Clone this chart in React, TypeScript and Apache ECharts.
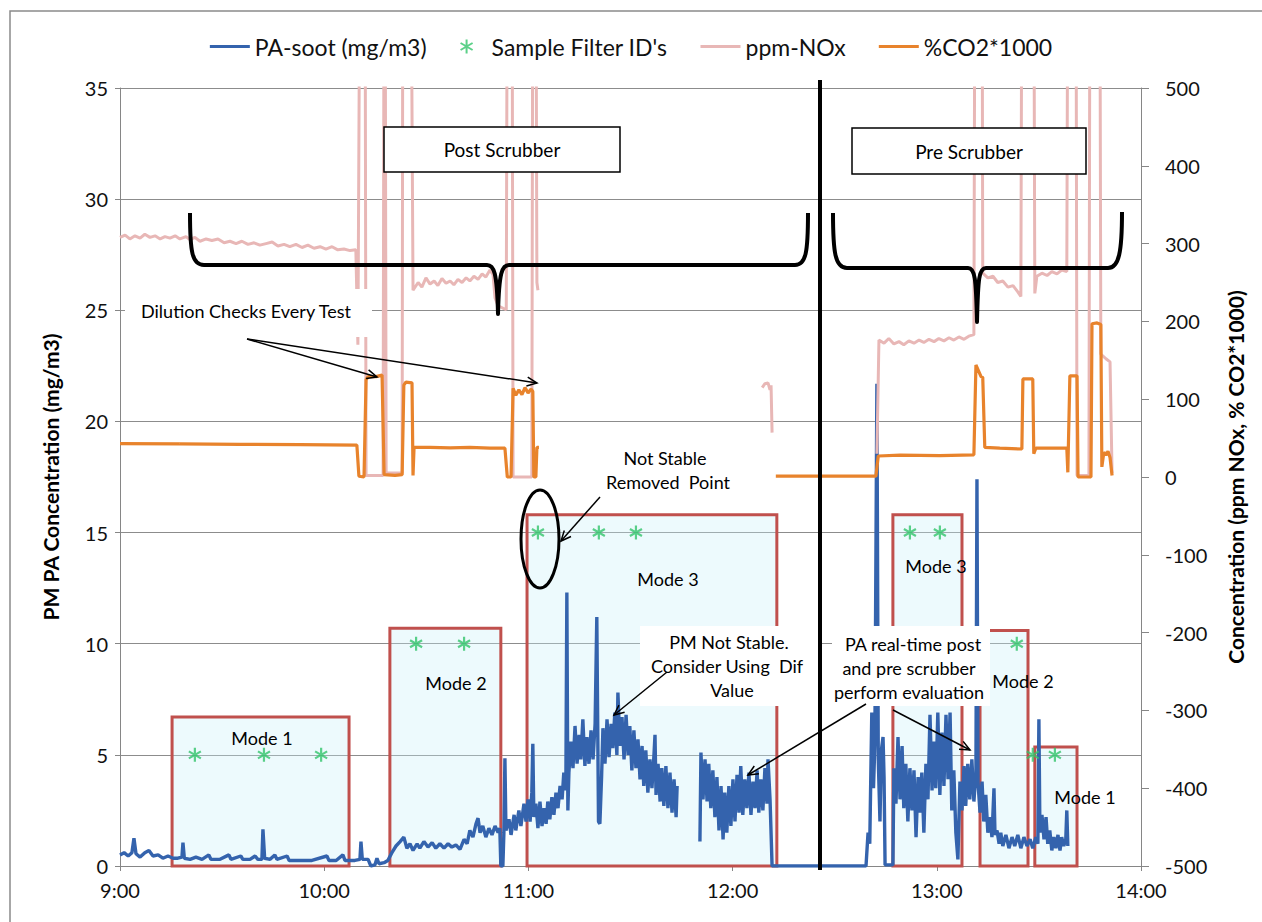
import React, { useEffect, useRef } from 'react';
import * as echarts from 'echarts';

// ---------- DATA (x = minutes after 9:00) ----------
const timeTickLabels = ['9:00', '10:00', '11:00', '12:00', '13:00', '14:00'];
const legendNames = ['PA-soot (mg/m3)', "Sample Filter ID's", 'ppm-NOx', '%CO2*1000'];

// PA-soot, mg/m3 (left axis)
const sootPostEarly: [number, number][] = [
  [0, 0.5], [1.2, 0.6], [2.4, 0.45], [3.5, 0.6], [4.1, 1.25], [4.7, 0.55], [5.9, 0.4], [7.3, 0.6], [8.5, 0.7],
  [9.7, 0.45], [11.2, 0.5], [12.6, 0.35], [14.1, 0.45], [15.6, 0.35], [17.0, 0.35], [18.2, 0.4], [18.5, 1.05],
  [18.9, 0.35], [20.6, 0.3], [22.3, 0.4], [24.1, 0.3], [26.1, 0.5], [26.7, 0.3], [29.4, 0.3], [32.0, 0.5],
  [32.6, 0.3], [35.5, 0.45], [36.1, 0.3], [38.2, 0.3], [39.7, 0.45], [40.5, 0.3], [41.7, 0.3], [42.0, 1.65],
  [42.5, 0.35], [44.1, 0.3], [45.5, 0.5], [46.1, 0.3], [49.1, 0.45], [49.7, 0.25], [52.9, 0.25], [56.4, 0.25],
  [60.8, 0.45], [61.4, 0.25], [63.5, 0.25], [65.5, 0.5], [66.1, 0.25], [69.0, 0.25], [70.5, 0.3], [70.8, 1.1],
  [71.2, 0.3], [72.9, 0.3], [73.7, 0.0], [74.9, 0.05], [75.5, 0.35], [76.1, 0.1], [77.6, 0.15], [78.7, 0.25],
  [79.9, 0.6], [81.1, 0.9], [82.3, 1.1], [83.4, 1.3], [84.3, 0.8], [85.2, 1.0], [86.1, 0.7], [87.3, 1.0],
  [88.1, 0.8], [89.3, 1.1], [90.5, 0.85], [91.7, 1.05], [92.8, 0.8], [94.0, 1.0], [95.2, 0.8], [96.4, 1.0],
  [97.5, 0.85], [98.7, 0.95], [99.9, 0.75], [101.1, 1.2], [102.0, 1.0], [102.8, 1.6], [103.7, 1.3], [104.6, 1.9],
  [105.2, 2.15], [105.8, 1.5], [106.6, 1.8], [107.5, 1.3], [108.4, 1.7], [109.3, 1.4], [110.2, 1.8], [111.1, 1.5],
  [111.6, 1.7], [111.9, 0.0], [112.5, 0.0], [112.8, 1.5], [113.1, 4.85], [113.4, 1.6], [114.3, 2.1], [114.9, 1.4],
  [115.8, 2.3], [116.3, 1.6], [117.2, 2.5], [117.8, 1.8], [118.7, 2.8], [119.3, 2.0],
];
const sootMode3First: [number, number][] = [
  [119.9, 3.0], [120.5, 2.0], [121.0, 3.3], [121.3, 5.5], [121.6, 2.2], [122.2, 2.8], [122.8, 1.7], [123.4, 2.9],
  [124.0, 1.8], [124.6, 2.6], [125.2, 1.9], [125.7, 2.9], [126.3, 2.1], [126.9, 3.1], [127.5, 2.3], [128.1, 3.3],
  [128.7, 2.6], [129.3, 3.6], [129.9, 3.0], [130.4, 4.2], [131.0, 3.4], [131.3, 12.3], [131.6, 2.5], [131.9, 4.2],
  [132.5, 5.6], [133.1, 4.4], [133.7, 6.3], [134.3, 4.6], [134.9, 5.9], [135.4, 4.8], [136.0, 6.6], [136.6, 4.5],
  [137.2, 5.8], [137.8, 4.6], [138.4, 6.1], [139.0, 4.8], [139.6, 6.4], [140.1, 11.2], [140.6, 2.0], [141.0, 1.9],
  [141.5, 4.0], [141.9, 6.2], [142.5, 4.6], [143.1, 6.6], [143.7, 4.9], [144.3, 6.4], [144.8, 5.3], [145.4, 6.9],
  [146.0, 5.0], [146.3, 7.8], [146.9, 5.4], [147.5, 6.7], [148.1, 4.8], [148.7, 6.8], [149.3, 5.0], [149.8, 6.3],
  [150.4, 4.3], [151.0, 6.1], [151.6, 4.4], [152.2, 5.7], [152.8, 3.9], [153.4, 5.4], [153.9, 3.6], [154.5, 5.2],
  [155.1, 3.3], [155.7, 4.8], [156.3, 3.5], [156.9, 5.0], [157.2, 5.9], [157.5, 3.2], [158.1, 4.6], [158.7, 2.9],
  [159.2, 4.4], [159.8, 2.7], [160.4, 4.5], [161.0, 2.6], [161.6, 4.2], [162.2, 2.4], [162.8, 3.9], [163.4, 2.2],
  [163.7, 3.6],
];
const sootMode3Second: [number, number][] = [
  [170.4, 1.1], [170.7, 5.1], [171.3, 3.0], [171.9, 4.8], [172.5, 2.9], [173.0, 4.6], [173.6, 2.6], [174.2, 4.3],
  [174.8, 2.2], [175.4, 4.0], [176.0, 1.6], [176.6, 3.6], [177.2, 1.2], [177.7, 3.3], [178.3, 1.5], [178.9, 3.6],
  [179.5, 1.8], [180.1, 3.9], [180.7, 2.0], [181.3, 4.1], [181.9, 2.4], [182.4, 4.5], [183.0, 2.3], [183.6, 3.9],
  [184.2, 2.6], [184.8, 4.2], [185.4, 2.3], [186.0, 3.8], [186.6, 2.6], [187.2, 4.3], [187.7, 2.4], [188.3, 3.9],
  [188.9, 2.5], [189.5, 4.4], [190.1, 2.8], [190.4, 4.8], [191.0, 3.0], [191.6, 0.0],
];
const sootPreScrubber: [number, number][] = [
  [219.2, 0.0], [219.8, 1.5], [220.3, 1.0], [220.9, 6.9], [221.4, 3.5], [221.8, 5.5], [222.4, 21.7], [222.8, 4.8],
  [223.3, 2.0], [223.7, 5.2], [224.2, 5.8], [224.5, 4.0], [224.8, 0.05], [227.1, 0.05], [227.4, 4.4], [228.0, 2.8],
  [228.6, 5.8], [229.2, 3.0], [229.8, 5.4], [230.3, 2.6], [230.9, 4.6], [231.5, 2.0], [232.1, 4.4], [232.7, 2.5],
  [233.3, 4.3], [233.9, 1.3], [234.5, 4.0], [235.0, 2.4], [235.6, 4.2], [236.2, 1.5], [236.8, 4.6], [237.4, 3.0],
  [238.0, 6.8], [238.6, 3.4], [239.2, 5.6], [239.7, 3.5], [240.3, 6.9], [240.9, 3.2], [241.5, 6.0], [242.1, 3.6],
  [242.7, 6.8], [243.3, 3.9], [243.9, 6.9], [244.4, 2.5], [245.0, 4.3], [245.6, 1.5], [246.2, 0.3], [246.8, 3.8],
  [247.4, 2.5], [248.0, 4.5], [248.5, 2.7], [249.1, 4.6], [249.7, 3.0], [250.3, 4.8], [250.9, 2.9], [251.5, 4.2],
  [251.8, 17.4], [252.1, 3.8], [252.7, 2.4], [253.3, 3.8], [253.8, 2.0], [254.4, 3.2], [255.0, 1.5], [255.6, 2.2],
  [256.2, 1.3], [256.8, 3.5], [257.1, 1.4], [257.7, 1.6], [258.3, 1.0], [258.8, 1.5], [259.4, 0.9], [260.3, 1.4],
  [261.2, 0.8], [262.1, 1.3], [262.9, 0.9], [263.8, 1.4], [264.7, 0.8], [265.6, 1.3], [266.5, 0.9], [267.4, 1.2],
  [268.2, 0.8], [269.1, 1.3], [269.7, 1.0], [270.0, 6.6], [270.3, 1.5], [270.9, 2.3], [271.5, 1.2], [272.1, 2.2],
  [272.6, 1.0], [273.2, 1.6], [273.8, 0.7], [274.4, 1.3], [275.0, 0.8], [275.6, 1.4], [276.2, 0.7], [276.7, 1.3],
  [277.3, 0.9], [277.9, 1.2], [278.2, 2.5], [278.5, 0.9],
];

// ppm NOx (right axis)
const noxPostScrubber: [number, number][] = [
  [0, 308], [1.5, 311], [2.9, 306], [4.4, 310], [5.9, 307], [7.3, 312], [8.8, 308], [10.3, 310], [11.8, 306],
  [13.2, 309], [14.7, 307], [16.2, 310], [17.6, 306], [19.4, 309], [20.6, 305], [22.0, 308], [23.5, 303],
  [25.3, 306], [27.0, 304], [28.8, 306], [30.6, 301], [32.3, 303], [34.1, 300], [35.8, 303], [37.6, 299],
  [39.4, 301], [41.1, 298], [42.9, 300], [44.7, 302], [46.4, 297], [48.2, 299], [49.9, 296], [51.7, 299],
  [53.5, 295], [55.2, 298], [57.0, 294], [58.8, 296], [60.5, 293], [62.3, 296], [64.0, 292], [65.8, 293],
  [67.6, 291], [69.3, 292], [69.9, 170], [70.5, 700], [72.0, 700], [72.3, 2], [77.3, 2], [77.6, 700], [77.9, 700],
  [78.2, 5], [82.9, 5], [83.1, 700], [85.5, 700], [86.1, 240], [87.6, 250], [88.7, 244], [89.9, 256], [91.1, 248],
  [92.3, 252], [93.4, 246], [94.6, 255], [95.8, 249], [97.0, 252], [98.1, 247], [99.3, 254], [100.5, 250],
  [101.7, 256], [102.8, 252], [104.0, 258], [105.2, 254], [106.4, 261], [107.5, 257], [108.7, 266], [109.6, 260],
  [110.2, 230], [111.1, 220], [113.5, 215], [113.8, 700], [115.2, 700], [115.5, 0], [121.0, 0], [121.3, 700],
  [122.2, 700], [122.5, 250], [122.8, 240],
];
const noxFragment: [number, number][] = [
  [188.7, 115], [189.5, 120], [190.4, 121], [191.0, 112], [191.3, 118], [191.6, 57],
];
const noxPreScrubber: [number, number][] = [
  [222.4, 30], [223.0, 176], [224.5, 172], [225.9, 178], [227.4, 171], [228.9, 174], [230.3, 170], [231.8, 175],
  [233.3, 172], [234.8, 176], [236.2, 173], [237.7, 177], [239.2, 174], [240.6, 178], [242.1, 175], [243.6, 179],
  [245.0, 176], [246.5, 180], [248.0, 177], [249.4, 181], [250.9, 183], [251.2, 700], [253.3, 700], [253.5, 262],
  [255.0, 256], [256.5, 258], [257.9, 250], [259.4, 252], [260.9, 244], [262.4, 246], [263.8, 238], [264.7, 232],
  [265.0, 700], [268.5, 700], [268.8, 236], [269.4, 258], [270.9, 262], [272.4, 259], [273.8, 264], [275.3, 261],
  [276.7, 266], [278.2, 264], [278.5, 700], [280.9, 700], [281.2, 2], [284.7, 2], [285.0, 700], [287.9, 700],
  [288.2, 158], [289.7, 152], [290.9, 148], [291.5, 5],
];

// %CO2*1000 (right axis)
const co2PostScrubber: [number, number][] = [
  [0, 43], [17.6, 42.5], [35.3, 42], [52.9, 41.5], [69.6, 41], [70.2, 1], [71.7, 0], [72.3, 125], [72.9, 129],
  [75.2, 129], [77.0, 131], [77.6, 3], [80.8, 2], [82.9, 3], [83.4, 118], [84.0, 122], [85.8, 121], [86.1, 2],
  [86.4, 38], [91.1, 38], [97.0, 37.5], [102.8, 38], [108.7, 37], [113.1, 37], [113.8, 0], [114.9, 0],
  [115.5, 114], [116.3, 105], [117.2, 112], [118.1, 106], [119.0, 115], [119.9, 108], [120.8, 113], [121.3, 110],
  [121.6, 0], [122.2, 0], [122.5, 38], [123.1, 38],
];
const co2PreScrubber: [number, number][] = [
  [192.7, 1], [205.7, 1], [222.1, 1], [222.8, 27], [229.2, 28], [240.9, 27.5], [250.9, 28.5], [251.5, 144],
  [252.1, 138], [253.0, 129], [253.5, 128], [254.1, 38], [258.5, 37], [265.0, 36], [265.3, 126], [268.2, 126],
  [268.5, 30], [269.1, 37], [273.2, 37], [278.2, 37], [278.5, 6], [279.1, 130], [281.2, 130], [281.5, 0],
  [285.3, 0], [285.6, 197], [287.1, 198], [288.2, 196], [288.5, 13], [289.1, 32], [289.7, 28], [290.3, 33],
  [290.9, 25], [291.5, 2],
];

// Sample filter IDs (left axis)
const filterSampleTimes = [22.0, 42.3, 59.1, 87.0, 101.1, 122.8, 140.7, 151.6, 232.1, 240.9, 263.5, 268.2, 274.7];
const filterSampleValues = [5, 5, 5, 10, 10, 15, 15, 15, 15, 15, 10, 5, 5];

// Mode sampling windows: start, end (minutes), top (mg/m3)
const modeStart = [15.3, 79.3, 119.6, 227.1, 252.7, 268.8];
const modeEnd = [67.3, 111.9, 193.0, 247.4, 266.8, 281.2];
const modeTop = [6.7, 10.7, 15.8, 15.8, 10.6, 5.35];
const modeLabels = ['Mode 1', 'Mode 2', 'Mode 3', 'Mode 3', 'Mode 2', 'Mode 1'];

// ---------- STYLE ----------
const FONT = 'Lato';
const SOOT = '#3463ad';
const NOX = '#e8b7b6';
const CO2 = '#e8832c';
const GREEN = '#32c46a';
const RED = '#c0504d';
const STAR = 'path://M5 0L5 10M0.7 2.5L9.3 7.5M0.7 7.5L9.3 2.5';
const LINE_ICON = 'path://M0 0H40V3H0Z';

const LeftBrace = echarts.graphic.extendPath(
  'M190 213 C190 252 192 265 204 265 L487 265 C494 265 497 272 498 314 C499 272 502 265 509 265 L795 265 C806 265 808 252 808 213',
  {}
);
const RightBrace = echarts.graphic.extendPath(
  'M833 213 C833 252 835 268 847 268 L968 268 C975 268 976 278 977 322 C978 278 979 268 986 268 L1108 268 C1119 268 1122 252 1122 212',
  {}
);
echarts.graphic.registerShape('leftBrace', LeftBrace);
echarts.graphic.registerShape('rightBrace', RightBrace);

function txt(text: string, x: number, y: number, size: number, z = 7) {
  return {
    type: 'text', z, silent: true, x, y,
    style: { text, font: `${size}px ${FONT}`, fill: '#000', align: 'center', verticalAlign: 'middle' },
  };
}
function arrow(x1: number, y1: number, x2: number, y2: number) {
  const a = Math.atan2(y2 - y1, x2 - x1);
  const L = 11, w = 0.42;
  return [
    { type: 'line', z: 20, silent: true, shape: { x1, y1, x2, y2 }, style: { stroke: '#000', lineWidth: 1.5 } },
    {
      type: 'polyline', z: 20, silent: true,
      shape: { points: [[x2 - L * Math.cos(a - w), y2 - L * Math.sin(a - w)], [x2, y2], [x2 - L * Math.cos(a + w), y2 - L * Math.sin(a + w)]] },
      style: { stroke: '#000', lineWidth: 1.5, fill: 'none' },
    },
  ];
}
function whiteBox(x: number, y: number, width: number, height: number, z = 6) {
  return { type: 'rect', z, silent: true, shape: { x, y, width, height }, style: { fill: '#fff' } };
}

export default function App() {
  const ref = useRef<HTMLDivElement>(null);
  useEffect(() => {
    if (!ref.current) return;
    const chart = echarts.init(ref.current, null, { renderer: 'svg' });
    const gap: [number, any] = [166, '-'];
    const sootData = [...sootPostEarly, ...sootMode3First, gap, ...sootMode3Second, ...sootPreScrubber];
    const noxData = [...noxPostScrubber, [150, '-'], ...noxFragment, [200, '-'], ...noxPreScrubber];
    const co2Data = [...co2PostScrubber, [160, '-'], ...co2PreScrubber];
    const starData = filterSampleTimes.map((t, i) => [t, filterSampleValues[i]]);
    const areas = modeStart.map((s, i) => [{ coord: [s, modeTop[i]] }, { coord: [modeEnd[i], -0.5] }]);

    const modeLabelPos = [[262, 738], [456, 683], [668, 579], [936, 566], [1023, 681], [1085, 797]];

    const graphic: any[] = [
      { type: 'rect', z: 0, silent: true, shape: { x: 10, y: 11, width: 1300, height: 1000 }, style: { fill: 'none', stroke: '#8a8a8a', lineWidth: 1.5 } },
      whiteBox(125, 289, 247, 48),
      whiteBox(640, 626, 178, 80),
      whiteBox(832, 626, 158, 80),
      txt('Dilution Checks Every Test', 246, 311, 18),
      txt('Not Stable', 665, 458, 18),
      txt('Removed  Point', 668, 482, 18),
      txt('PM Not Stable.', 729, 642, 18),
      txt('Consider Using  Dif', 727, 666, 18),
      txt('Value', 732, 690, 18),
      txt('PA real-time post', 913, 644, 18),
      txt('and pre scrubber', 909, 668, 18),
      txt('perform evaluation', 909, 692, 18),
      ...modeLabels.map((l, i) => txt(l, modeLabelPos[i][0], modeLabelPos[i][1], 18)),
      { type: 'line', z: 20, silent: true, shape: { x1: 820, y1: 80, x2: 820, y2: 870 }, style: { stroke: '#000', lineWidth: 4 } },
      { type: 'leftBrace', z: 20, silent: true, style: { stroke: '#000', lineWidth: 4, fill: 'none', lineJoin: 'round' } },
      { type: 'rightBrace', z: 20, silent: true, style: { stroke: '#000', lineWidth: 4, fill: 'none', lineJoin: 'round' } },
      { type: 'ellipse', z: 20, silent: true, shape: { cx: 540, cy: 539, rx: 19, ry: 49 }, style: { fill: 'none', stroke: '#000', lineWidth: 3 } },
      ...arrow(247, 339, 377, 377),
      ...arrow(247, 339, 537, 383),
      ...arrow(600, 497, 561, 541),
      ...arrow(667, 672, 614, 715),
      ...arrow(866, 704, 748, 775),
      ...arrow(893, 710, 970, 750),
      { type: 'rect', z: 20, silent: true, shape: { x: 384, y: 127, width: 236, height: 45 }, style: { fill: '#fff', stroke: '#000', lineWidth: 1.5 } },
      txt('Post Scrubber', 502, 149, 19, 21),
      { type: 'rect', z: 20, silent: true, shape: { x: 852, y: 128, width: 234, height: 46 }, style: { fill: '#fff', stroke: '#000', lineWidth: 1.5 } },
      txt('Pre Scrubber', 969, 151, 19, 21),
    ];

    const axisLabel = { fontFamily: FONT, fontSize: 20, color: '#111' };
    const axisLine = { show: true, lineStyle: { color: '#868686', width: 1 } };

    chart.setOption({
      animation: false,
      backgroundColor: '#fff',
      textStyle: { fontFamily: FONT },
      grid: { left: 120, right: 121, top: 88, bottom: 56, containLabel: false },
      legend: {
        top: 30, left: 'center', itemWidth: 40, itemHeight: 14, itemGap: 33,
        textStyle: { fontFamily: FONT, fontSize: 23, color: '#111' },
        data: [
          { name: legendNames[0], icon: LINE_ICON },
          { name: legendNames[1] },
          { name: legendNames[2], icon: LINE_ICON },
          { name: legendNames[3], icon: LINE_ICON },
        ],
      },
      xAxis: {
        type: 'value', min: 0, max: 300, interval: 60,
        axisLine, axisTick: { show: true, length: 5, lineStyle: { color: '#868686' } },
        splitLine: { show: false },
        axisLabel: { ...axisLabel, margin: 14, formatter: (v: number) => timeTickLabels[Math.round(v / 60)] ?? '' },
      },
      yAxis: [
        {
          type: 'value', min: 0, max: 35, interval: 5, position: 'left',
          name: 'PM PA Concentration (mg/m3)', nameLocation: 'middle', nameGap: 59,
          nameTextStyle: { fontFamily: FONT, fontSize: 21, fontWeight: 'bold', color: '#000' },
          axisLine, axisTick: { show: true, length: 5, lineStyle: { color: '#868686' } },
          splitLine: { show: true, lineStyle: { color: '#8c8c8c', width: 1 } },
          axisLabel: { ...axisLabel, margin: 12 },
        },
        {
          type: 'value', min: -500, max: 500, interval: 100, position: 'right',
          name: 'Concentration (ppm NOx, % CO2*1000)', nameLocation: 'middle', nameGap: 84,
          nameTextStyle: { fontFamily: FONT, fontSize: 21, fontWeight: 'bold', color: '#000' },
          axisLine, axisTick: { show: true, length: 8, lineStyle: { color: '#868686' } },
          splitLine: { show: false },
          axisLabel: { ...axisLabel, margin: 24 },
        },
      ],
      graphic,
      series: [
        {
          name: legendNames[0], type: 'line', yAxisIndex: 0, z: 2, symbol: 'none', showSymbol: false,
          data: sootData, lineStyle: { color: SOOT, width: 3.4 }, itemStyle: { color: SOOT },
        },
        {
          name: legendNames[2], type: 'line', yAxisIndex: 1, z: 3, symbol: 'none', showSymbol: false,
          data: noxData, lineStyle: { color: NOX, width: 3 }, itemStyle: { color: NOX },
        },
        {
          name: legendNames[3], type: 'line', yAxisIndex: 1, z: 4, symbol: 'none', showSymbol: false,
          data: co2Data, lineStyle: { color: CO2, width: 3.2 }, itemStyle: { color: CO2 },
        },
        {
          name: legendNames[1], type: 'scatter', yAxisIndex: 0, z: 5, symbol: STAR, symbolSize: 14, symbolKeepAspect: true,
          data: starData, itemStyle: { color: 'rgba(0,0,0,0)', borderColor: GREEN, borderWidth: 2.2 },
        },
        {
          name: 'modes', type: 'line', yAxisIndex: 0, z: 10, clip: false, data: [], symbol: 'none',
          markArea: {
            silent: true,
            itemStyle: { color: 'rgba(200,240,250,0.32)', borderColor: RED, borderWidth: 3 },
            label: { show: false },
            data: areas,
          },
        },
      ],
    });
    return () => chart.dispose();
  }, []);
  return <div ref={ref} style={{ position: 'fixed', left: 0, top: 0, width: 1262, height: 922, background: '#fff' }} />;
}
